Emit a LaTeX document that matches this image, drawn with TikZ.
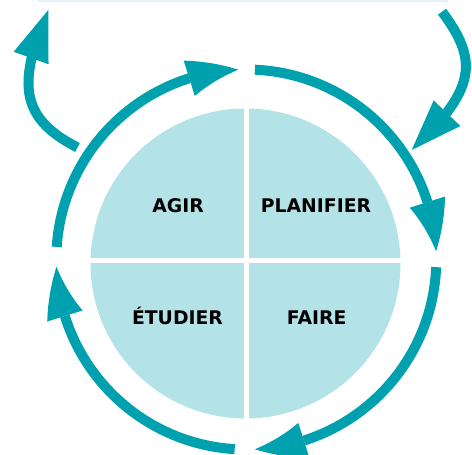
\documentclass[tikz,border=0pt]{standalone}
\usepackage{fontspec}
\newfontfamily\lblfont{DejaVu Sans}
\usetikzlibrary{arrows.meta,bending}
\definecolor{pdcateal}{RGB}{0,161,175}
\definecolor{pdcapie}{RGB}{179,227,231}
\definecolor{pdcafaint}{RGB}{228,243,245}
\begin{document}
\begin{tikzpicture}[x=1pt,y=-1pt,
  ring/.style={line width=10pt, draw=pdcateal, -{Triangle[length=51pt,width=37pt,line width=0pt,bend]}},
  side/.style={line width=10pt, draw=pdcateal, -{Triangle[length=51pt,width=37pt,line width=0pt]}},
  lbl/.style={font=\lblfont\bfseries\fontsize{18.8}{21}\selectfont, anchor=base, inner sep=0pt, text=black}]
\useasboundingbox (0,0) rectangle (472,455);
% faint top strip
\fill[pdcafaint] (38,0) rectangle (448,1.5);
% pie
\coordinate (pc) at (245.5,263.5);
\fill[pdcapie] (pc) circle[radius=155];
\fill[white] (243.8,100) rectangle (248.6,425);
\fill[white] (85,258.3) rectangle (405,262.7);
% labels
\node[lbl] (agir) at (178,212.9) {AGIR};
\node[lbl] (planifier) at (316,212.9) {PLANIFIER};
\node[lbl] (etudier) at (177.5,324.5) {ÉTUDIER};
\node[lbl] (faire) at (316.7,324.5) {FAIRE};
% ring arrows
\coordinate (rc) at (246.3,259.5);
\draw[ring] ([shift={(-176.2:190)}]rc) arc[start angle=-176.2, end angle=-92.4, radius=190];
\draw[ring] ([shift={(-87.4:190)}]rc) arc[start angle=-87.4, end angle=-2.5, radius=190];
\draw[ring] ([shift={(2.3:190)}]rc) arc[start angle=2.3, end angle=87.4, radius=190];
\draw[ring] ([shift={(93.5:190)}]rc) arc[start angle=93.5, end angle=177.8, radius=190];
% side arrows
\coordinate (ls) at (77.5,147.5);
\coordinate (lt) at (48.3,10);
\coordinate (rs) at (442,11.7);
\coordinate (rt) at (411.7,150);
\draw[side] (ls) .. controls (20,118) and (17,83.6) .. (lt);
\draw[side] (rs) .. controls (478,59.7) and (477.4,88.8) .. (rt);
\end{tikzpicture}
\end{document}
